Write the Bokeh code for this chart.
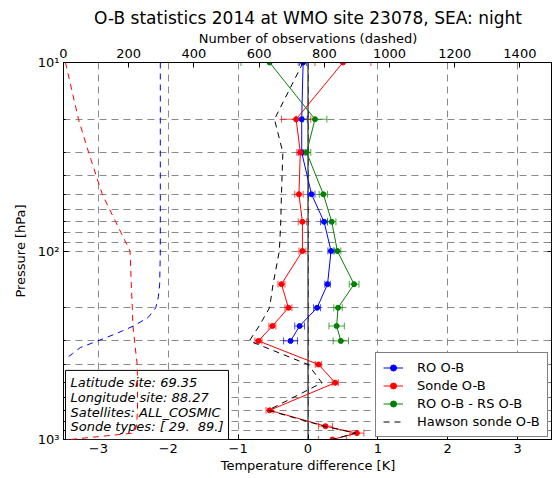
import numpy as np
from bokeh.plotting import figure
from bokeh.models import (Range1d, LinearAxis, LogAxis, FixedTicker, CustomJSTickFormatter,
                          Span, Whisker, TeeHead, ColumnDataSource, Legend, LegendItem, Label)
from bokeh.embed import file_html
from bokeh.resources import INLINE

# Pressure levels [hPa]
levels = [10, 20, 30, 50, 70, 100, 150, 200, 250, 300, 400, 500, 700, 850, 925, 1000]
ro_levels = [10, 20, 30, 50, 70, 100, 150, 200, 250, 300]

# Mean O-B [K] and its standard error
ro_ob = [-0.07, -0.09, -0.09, 0.05, 0.23, 0.33, 0.28, 0.13, -0.12, -0.25]
ro_err = [0.05, 0.08, 0.05, 0.05, 0.05, 0.045, 0.04, 0.05, 0.07, 0.10]
sonde_ob = [0.50, -0.17, -0.11, -0.13, -0.08, -0.08, -0.38, -0.28, -0.51, -0.71,
            0.15, 0.39, -0.55, 0.25, 0.70, 0.35]
sonde_err = [0.40, 0.21, 0.05, 0.06, 0.06, 0.05, 0.05, 0.05, 0.05, 0.05,
             0.045, 0.045, 0.05, 0.10, 0.10, 0.20]
diff_ob = [-0.55, 0.10, -0.02, 0.22, 0.34, 0.42, 0.66, 0.43, 0.41, 0.47]
diff_err = [0.41, 0.17, 0.06, 0.06, 0.06, 0.05, 0.07, 0.06, 0.11, 0.11]
hawson_ob = [-0.07, -0.48, -0.36, -0.38, -0.39, -0.41, -0.50, -0.55, -0.70, -0.84,
             0.00, 0.20, -0.57, 0.23, 0.68, 0.35]

# Number of observations per level
sonde_count = [6, 46, 77, 119, 160, 204, 208, 211, 213, 218, 226, 227, 227, 224, 215, 20]
ro_count_levels = [10, 100, 150, 175, 200, 225, 250, 275, 300, 325, 350, 375]
ro_count = [297, 297, 295, 291, 283, 260, 215, 160, 105, 52, 28, 5]

x_ticks = [-3, -2, -1, 0, 1, 2, 3]
count_ticks = [0, 200, 400, 600, 800, 1000, 1200, 1400]
p_major = [10, 100, 1000]
p_minor = [20, 30, 40, 50, 60, 70, 80, 90, 200, 300, 400, 500, 600, 700, 800, 900]

title_text = "O-B statistics 2014 at WMO site 23078, SEA: night"
site_info = ("Latitude site: 69.35\nLongitude site: 88.27\n"
             "Satellites: ALL_COSMIC\nSonde types: [ 29.\u00a0 89.]")

FONT = "DejaVu Sans"
GRID = "#8a8a8a"

p = figure(width=552, height=478, y_axis_type="log",
           x_range=Range1d(-3.5, 3.5), y_range=Range1d(1000, 10),
           output_backend="svg", toolbar_location=None, title=title_text,
           min_border_left=63, min_border_right=0, min_border_top=62, min_border_bottom=39)
p.extra_x_ranges = {"count": Range1d(0, 1500)}
p.background_fill_color = "white"
p.border_fill_color = "white"
p.outline_line_color = "black"
p.outline_line_width = 1
p.outline_line_alpha = 1

p.title.text_font = FONT
p.title.text_font_size = "17px"
p.title.text_font_style = "normal"
p.title.text_color = "black"
p.title.align = "center"
p.title.standoff = 0

# bottom axis: temperature difference
xa = p.xaxis[0]
xa.ticker = FixedTicker(ticks=x_ticks)
xa.formatter = CustomJSTickFormatter(
    code="return tick < 0 ? '\\u2212' + Math.abs(tick) : String(tick);")
xa.axis_label = "Temperature difference [K]"

# left axis: pressure
ya = p.yaxis[0]
ya.ticker = FixedTicker(ticks=p_major, minor_ticks=p_minor)
ya.formatter = CustomJSTickFormatter(
    code="const e = Math.round(Math.log10(tick));"
         "const s = {1: '\\u00b9', 2: '\\u00b2', 3: '\\u00b3'};"
         "return '10' + s[e];")
ya.axis_label = "Pressure [hPa]"

# top axis: number of observations
ta = LinearAxis(x_range_name="count", ticker=FixedTicker(ticks=count_ticks),
                axis_label="Number of observations (dashed)")
p.add_layout(ta, "above")

# right axis: tick marks only
ra = LogAxis(ticker=FixedTicker(ticks=p_major, minor_ticks=p_minor),
             formatter=CustomJSTickFormatter(code="return ' ';"),
             major_label_text_font_size="1px", major_label_text_alpha=0,
             major_label_standoff=0, major_tick_in=5, major_tick_out=0,
             minor_tick_in=2, minor_tick_out=0, axis_line_color="black")
p.add_layout(ra, "right")

for ax in (xa, ya, ta):
    ax.major_tick_in = 5
    ax.major_tick_out = 0
    ax.minor_tick_in = 2
    ax.minor_tick_out = 0
    ax.axis_line_color = "black"
    ax.major_tick_line_color = "black"
    ax.minor_tick_line_color = "black"
    ax.major_label_text_font = FONT
    ax.major_label_text_font_size = "13px"
    ax.major_label_text_color = "black"
    ax.major_label_standoff = 4
    ax.axis_label_text_font = FONT
    ax.axis_label_text_font_size = "13px"
    ax.axis_label_text_font_style = "normal"
    ax.axis_label_text_color = "black"
    ax.axis_label_standoff = 2
ya.axis_label_standoff = 7
ta.axis_label_standoff = 0
ta.major_label_standoff = 5
xa.minor_tick_in = 0
ta.minor_tick_in = 0

# dashed grid
p.xgrid.grid_line_color = GRID
p.xgrid.grid_line_dash = "7 5"
p.ygrid.grid_line_color = GRID
p.ygrid.grid_line_dash = "7 5"
p.ygrid.minor_grid_line_color = GRID
p.ygrid.minor_grid_line_dash = "7 5"

p.add_layout(Span(location=0, dimension="height", line_color="black",
                  line_width=1, level="underlay"))


def error_bars(y, x, err, color):
    lo = [a - e for a, e in zip(x, err)]
    hi = [a + e for a, e in zip(x, err)]
    src = ColumnDataSource(dict(base=y, lower=lo, upper=hi))
    w = Whisker(source=src, base="base", lower="lower", upper="upper",
                dimension="width", line_color=color, line_alpha=0.7, line_width=1,
                lower_head=TeeHead(size=7, line_color=color, line_alpha=0.7),
                upper_head=TeeHead(size=7, line_color=color, line_alpha=0.7))
    p.add_layout(w)


error_bars(ro_levels, ro_ob, ro_err, "#0000ff")
error_bars(levels, sonde_ob, sonde_err, "#ff0000")
error_bars(ro_levels, diff_ob, diff_err, "#008000")

ro_line = p.line(ro_ob, ro_levels, line_color="#0000ff", line_width=1)
ro_pts = p.scatter(ro_ob, ro_levels, size=5, color="#0000ff")
sonde_line = p.line(sonde_ob, levels, line_color="#ff0000", line_width=1)
sonde_pts = p.scatter(sonde_ob, levels, size=5, color="#ff0000")
diff_line = p.line(diff_ob, ro_levels, line_color="#008000", line_width=1)
diff_pts = p.scatter(diff_ob, ro_levels, size=5, color="#008000")
hawson_line = p.line(hawson_ob, levels, line_color="black", line_width=1, line_dash="6 5")

# observation counts, drawn above everything like a twin axes
p.line(sonde_count, levels, x_range_name="count", line_color="#ff0000",
       line_width=1, line_dash="6 5", level="overlay")
p.line(ro_count, ro_count_levels, x_range_name="count", line_color="#0000ff",
       line_width=1, line_dash="6 5", level="overlay")

legend = Legend(items=[
    LegendItem(label="RO O-B", renderers=[ro_line, ro_pts]),
    LegendItem(label="Sonde O-B", renderers=[sonde_line, sonde_pts]),
    LegendItem(label="RO O-B - RS O-B", renderers=[diff_line, diff_pts]),
    LegendItem(label="Hawson sonde O-B", renderers=[hawson_line]),
], location=(312, 2))
legend.label_text_font = FONT
legend.label_text_font_size = "13px"
legend.label_text_color = "black"
legend.border_line_color = "black"
legend.border_line_width = 1
legend.background_fill_color = "white"
legend.background_fill_alpha = 1
legend.padding = 7
legend.spacing = 3
legend.margin = 0
legend.glyph_width = 20
legend.glyph_height = 15
legend.label_height = 15
legend.label_standoff = 14
p.add_layout(legend, "center")

info = Label(x=2, y=0, x_units="screen", y_units="screen", text=site_info,
             text_font=FONT, text_font_size="13px", text_font_style="italic",
             text_color="black", text_line_height=0.98,
             border_line_color="black", border_line_width=1,
             background_fill_color="white", background_fill_alpha=1,
             padding=5)
p.add_layout(info)

open("out.html", "w").write(file_html(p, INLINE))
